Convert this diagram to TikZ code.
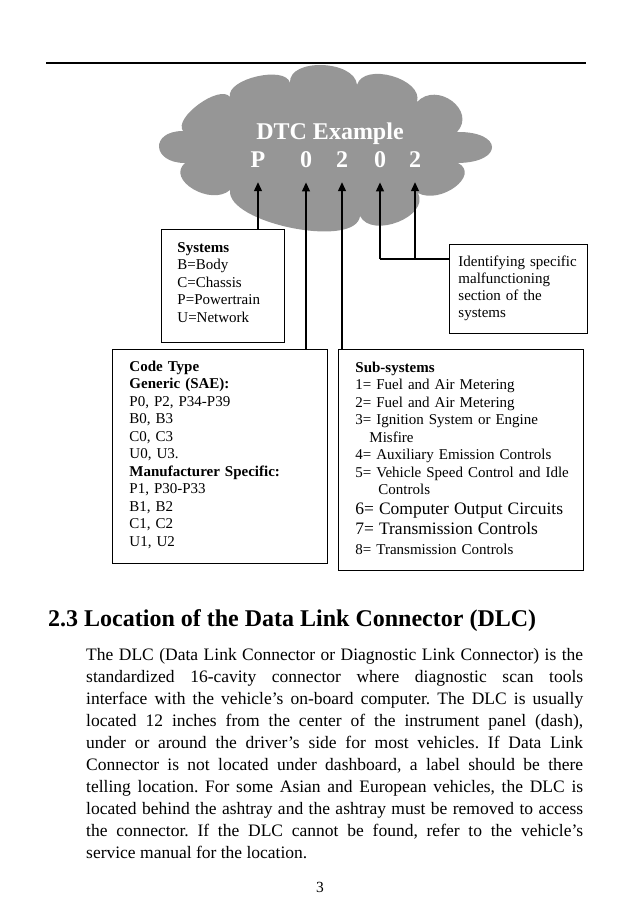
\documentclass[tikz,border=0pt]{standalone}
\usepackage{fontspec}
\setmainfont{Liberation Serif}
\usetikzlibrary{arrows.meta}
\definecolor{cloudgray}{RGB}{150,150,150}
\begin{document}
\begin{tikzpicture}[x=1pt,y=-1pt,
  box/.style={draw, line width=0.9pt, anchor=north west, inner ysep=0pt, align=left,
    font=\fontsize{15}{17.5}\selectfont},
  arr/.style={line width=1.2pt, -{Triangle[length=9pt,width=8pt]}, shorten >=15pt},
  conn/.style={line width=1.2pt},
  digit/.style={anchor=base, inner sep=0pt, text=white, font=\fontsize{24}{28}\bfseries\selectfont}]
\useasboundingbox (0,0) rectangle (638,919);
\draw[line width=1.2pt] (46,63) -- (586,63);
% cloud
\fill[cloudgray] (185,163) .. controls (151.7,163) and (149.7,131) .. (183,131)
  .. controls (173,117.7) and (220,83.7) .. (230,97)
  .. controls (225.7,78.9) and (285.7,64.9) .. (290,83)
  .. controls (288,57.7) and (355,59.7) .. (357,85)
  .. controls (363.7,61.7) and (423.7,78.7) .. (417,102)
  .. controls (437,80.7) and (477,110.7) .. (457,132)
  .. controls (503,131.3) and (504,162.3) .. (458,163)
  .. controls (480.7,175) and (440.7,205) .. (418,193)
  .. controls (430,216.3) and (372,239.3) .. (360,216)
  .. controls (356,249.3) and (226,223.3) .. (230,190)
  .. controls (210.7,206.7) and (165.7,179.7) .. (185,163) -- cycle;
\node[digit] (title) at (330,139) {DTC Example};
\node[digit] (P) at (258,167) {P};
\node[digit] (d1) at (306,167) {0};
\node[digit] (d2) at (342,167) {2};
\node[digit] (d3) at (380,167) {0};
\node[digit] (d4) at (415,167) {2};
% boxes
\node[box, text width=91pt, inner xsep=16pt, text height=23pt, text depth=90pt] (sys) at (161,229)
  {\textbf{Systems}\\B=Body\\C=Chassis\\P=Powertrain\\U=Network};
\node[box, text width=120pt, inner xsep=9pt, text height=22pt, text depth=67pt,
  font=\fontsize{15}{17}\selectfont] (ident) at (449,244)
  {\mbox{Identifying specific}\\malfunctioning\\section of the\\systems};
\node[box, text width=181pt, inner xsep=17pt, text height=22pt, text depth=192pt] (code) at (112,349)
  {\textbf{Code Type}\\\textbf{Generic (SAE):}\\P0, P2, P34-P39\\B0, B3\\C0, C3\\U0, U3.\\
   \mbox{\textbf{Manufacturer Specific:}}\\P1, P30-P33\\B1, B2\\C1, C2\\U1, U2};
\node[box, text width=211pt, inner xsep=17pt, text height=23pt, text depth=198pt] (sub) at (338,349)
  {\textbf{Sub-systems}\\
   \mbox{1= Fuel and Air Metering}\\
   \mbox{2= Fuel and Air Metering}\\
   \mbox{3= Ignition System or Engine}\\
   \hspace*{14pt}Misfire\\
   \mbox{4= Auxiliary Emission Controls}\\
   \mbox{5= Vehicle Speed Control and Idle}\\
   \hspace*{23pt}Controls\\[2pt]
   \mbox{\fontsize{17.5}{20}\selectfont 6= Computer Output Circuits}\\[2.5pt]
   \mbox{\fontsize{17.5}{20}\selectfont 7= Transmission Controls}\\[2.5pt]
   \mbox{8= Transmission Controls}};
% connectors
\draw[arr] (P |- sys.north) -- (P);
\draw[arr] (d1 |- code.north) -- (d1);
\draw[arr] (d2 |- sub.north) -- (d2);
\coordinate (j) at (380,259);
\draw[conn] (ident.west |- j) -- (j);
\draw[arr] (j) -- (d3);
\draw[arr] (d4 |- j) -- (d4);
% text
\node[anchor=base west, inner sep=0pt, font=\fontsize{24}{28}\bfseries\selectfont] (head) at (48,626)
  {2.3 Location of the Data Link Connector (DLC)};
\node[anchor=base west, inner sep=0pt, text width=497pt, align=justify,
  font=\fontsize{17.5}{22.1}\selectfont] (para) at (86,660)
  {\tolerance=10000\relax\hbadness=10000\relax\hyphenpenalty=10000\relax\frenchspacing
   The DLC (Data Link Connector or Diagnostic Link Connector) is the\linebreak
   standardized 16-cavity connector where diagnostic scan tools\linebreak
   interface with the vehicle's on-board computer. The DLC is usually\linebreak
   located 12 inches from the center of the instrument panel (dash),\linebreak
   under or around the driver’s side for most vehicles. If Data Link\linebreak
   Connector is not located under dashboard, a label should be there\linebreak
   telling location. For some Asian and European vehicles, the DLC is\linebreak
   located behind the ashtray and the ashtray must be removed to access\linebreak
   the connector. If the DLC cannot be found, refer to the vehicle’s\linebreak
   service manual for the location.};
\node[anchor=base, inner sep=0pt, font=\fontsize{15.5}{18}\selectfont] (pg) at (320,892) {3};
\end{tikzpicture}
\end{document}
